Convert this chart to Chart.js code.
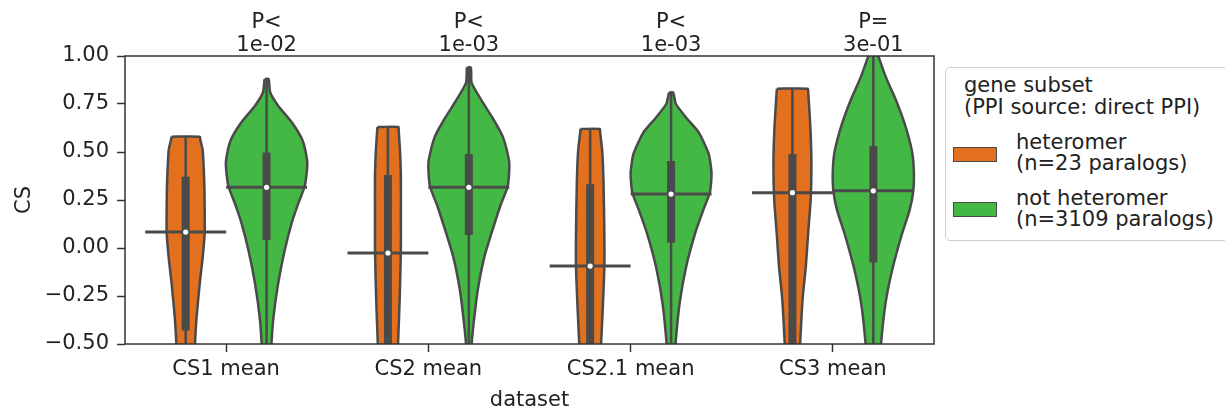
<!DOCTYPE html>
<html><head><meta charset="utf-8">
<script src="https://cdn.jsdelivr.net/npm/chart.js@4.4.1/dist/chart.umd.min.js"></script>
<style>
html,body{margin:0;padding:0;background:#fff;overflow:hidden;width:1225px;height:409px;}
#wrap{position:relative;width:1225px;height:409px;overflow:hidden;}
canvas{position:absolute;left:0;top:0;}
.lg{position:absolute;font-family:'DejaVu Sans';font-size:21px;line-height:21px;color:#222;white-space:nowrap;}
#lgbox{position:absolute;left:945px;top:67px;width:320px;height:172px;border:1.5px solid #cfcfcf;border-radius:5px;background:#fff;}
.patch{position:absolute;width:42px;height:13px;border:1.5px solid #4a4a4a;}
</style></head><body>
<div id="wrap"><canvas id="c" width="1225" height="409"></canvas><div id="legend"></div></div>
<script>
// ---- data ----
const categories = ['CS1 mean', 'CS2 mean', 'CS2.1 mean', 'CS3 mean'];
const groupNames = [['heteromer', '(n=23 paralogs)'], ['not heteromer', '(n=3109 paralogs)']];
const legendTitle = ['gene subset', '(PPI source: direct PPI)'];
const pLabels = [['P<', '1e-02'], ['P<', '1e-03'], ['P<', '1e-03'], ['P=', '3e-01']];
const yTicks = [-0.5, -0.25, 0, 0.25, 0.5, 0.75, 1.0];

// violin outlines: CS levels (top -> bottom) and relative half-width (1 = widest violin)
const hetProfileY = [
  [0.58, 0.565, 0.51, 0.34, 0.20, 0.08, -0.05, -0.18, -0.36, -0.50, -0.60],
  [0.63, 0.615, 0.50, 0.37, 0.16, -0.01, -0.27, -0.50, -0.60],
  [0.62, 0.605, 0.50, 0.34, 0.08, -0.10, -0.32, -0.50, -0.60],
  [0.83, 0.815, 0.60, 0.42, 0.25, 0.08, -0.10, -0.27, -0.50, -0.60]
];
const hetProfileW = [
  [0.35, 0.36, 0.42, 0.46, 0.47, 0.47, 0.42, 0.35, 0.27, 0.23, 0.21],
  [0.26, 0.265, 0.30, 0.32, 0.32, 0.32, 0.29, 0.25, 0.23],
  [0.24, 0.245, 0.30, 0.33, 0.35, 0.35, 0.31, 0.27, 0.25],
  [0.38, 0.39, 0.45, 0.47, 0.45, 0.39, 0.33, 0.25, 0.19, 0.17]
];
const notProfileY = [
  [0.88, 0.81, 0.74, 0.65, 0.56, 0.46, 0.41, 0.32, 0.23, 0.13, -0.01, -0.18, -0.36, -0.50, -0.60],
  [0.94, 0.86, 0.77, 0.68, 0.58, 0.46, 0.41, 0.32, 0.22, 0.09, -0.05, -0.22, -0.39, -0.50, -0.60],
  [0.81, 0.75, 0.68, 0.60, 0.49, 0.39, 0.29, 0.20, 0.08, -0.10, -0.29, -0.50, -0.60],
  [1.03, 0.99, 0.89, 0.77, 0.65, 0.51, 0.41, 0.30, 0.20, 0.06, -0.12, -0.29, -0.50, -0.60]
];
const notProfileW = [
  [0.05, 0.09, 0.29, 0.64, 0.89, 1.00, 1.00, 0.94, 0.78, 0.62, 0.45, 0.29, 0.17, 0.12, 0.10],
  [0.05, 0.07, 0.31, 0.58, 0.84, 0.99, 1.00, 0.96, 0.78, 0.58, 0.38, 0.22, 0.12, 0.07, 0.06],
  [0.05, 0.12, 0.37, 0.69, 0.93, 1.00, 0.96, 0.80, 0.60, 0.37, 0.21, 0.11, 0.09],
  [0.07, 0.14, 0.31, 0.56, 0.77, 0.95, 1.00, 0.99, 0.90, 0.69, 0.46, 0.30, 0.19, 0.17]
];

// inner box statistics
const hetWhiskerLow  = [-0.70, -0.70, -0.70, -0.70];
const hetQ1          = [-0.43, -0.60, -0.60, -0.60];
const hetMedian      = [0.083, -0.026, -0.094, 0.288];
const hetQ3          = [0.371, 0.38, 0.332, 0.49];
const hetWhiskerHigh = [0.58, 0.63, 0.62, 0.83];
const notWhiskerLow  = [-0.70, -0.70, -0.70, -0.70];
const notQ1          = [0.042, 0.068, 0.028, -0.076];
const notMedian      = [0.316, 0.316, 0.281, 0.298];
const notQ3          = [0.497, 0.49, 0.453, 0.531];
const notWhiskerHigh = [0.88, 0.94, 0.81, 1.03];

// ---- styling ----
const groupColors = ['#e2701e', '#44b844'];
const edge = '#4a4a4a';
const textColor = '#222';
const FONT = 'DejaVu Sans';
const offsets = [-0.2, 0.2];
const maxHalf = 0.2;

const profY = [hetProfileY, notProfileY];
const profW = [hetProfileW, notProfileW];
const wLo = [hetWhiskerLow, notWhiskerLow], q1s = [hetQ1, notQ1], meds = [hetMedian, notMedian],
      q3s = [hetQ3, notQ3], wHi = [hetWhiskerHigh, notWhiskerHigh];

const datasets = [];
for (let g = 0; g < 2; g++) {
  for (let i = 0; i < categories.length; i++) {
    const c = i + offsets[g];
    const ys = profY[g][i], ws = profW[g][i];
    const left = ys.map((y, k) => ({x: c - ws[k] * maxHalf, y}));
    const right = ys.map((y, k) => ({x: c + ws[k] * maxHalf, y})).reverse();
    const poly = left.concat(right, [left[0]]);
    datasets.push({data: poly, backgroundColor: groupColors[g], borderColor: edge, borderWidth: 2.5,
      fill: 'shape', pointRadius: 0, tension: 0.2, order: 5, borderJoinStyle: 'round'});
    datasets.push({data: [{x: c, y: wLo[g][i]}, {x: c, y: wHi[g][i]}], borderColor: edge, borderWidth: 2.5,
      pointRadius: 0, fill: false, order: 4});
    datasets.push({data: [{x: c, y: q1s[g][i]}, {x: c, y: q3s[g][i]}], borderColor: edge, borderWidth: 8,
      borderCapStyle: 'butt', pointRadius: 0, fill: false, order: 3});
    datasets.push({data: [{x: c - maxHalf, y: meds[g][i]}, {x: c + maxHalf, y: meds[g][i]}], borderColor: edge,
      borderWidth: 3, pointRadius: 0, fill: false, order: 2});
    datasets.push({data: [{x: c, y: meds[g][i]}], showLine: false, pointRadius: 2.6, pointBorderWidth: 0,
      pointBackgroundColor: '#ffffff', pointBorderColor: '#ffffff', fill: false, order: 1});
  }
}

const frame = {
  id: 'frame',
  afterDatasetsDraw(chart) {
    const {ctx, chartArea: a} = chart;
    ctx.save();
    ctx.strokeStyle = '#333';
    ctx.lineWidth = 1.5;
    ctx.strokeRect(a.left, a.top, a.right - a.left, a.bottom - a.top);
    ctx.restore();
  }
};
const pAnnot = {
  id: 'pAnnot',
  afterDraw(chart) {
    const {ctx} = chart;
    const x = chart.scales.x;
    ctx.save();
    ctx.font = "21px 'DejaVu Sans'";
    ctx.fillStyle = textColor;
    ctx.textAlign = 'center';
    ctx.textBaseline = 'alphabetic';
    pLabels.forEach((lines, i) => {
      const px = x.getPixelForValue(i + offsets[1]);
      ctx.fillText(lines[0], px, 28);
      ctx.fillText(lines[1], px, 50.5);
    });
    ctx.restore();
  }
};

const fmt = v => (v < 0 ? '\u2212' : '') + Math.abs(v).toFixed(2);

new Chart(document.getElementById('c'), {
  type: 'line',
  data: {datasets},
  options: {
    responsive: false,
    animation: false,
    layout: {padding: {left: 0, top: 56, right: 291, bottom: 0}},
    plugins: {legend: {display: false}, tooltip: {enabled: false}},
    scales: {
      x: {
        type: 'linear', min: -0.5, max: 3.5,
        afterBuildTicks: s => { s.ticks = categories.map((_, i) => ({value: i})); },
        afterFit: s => { s.height = 65; },
        ticks: {autoSkip: false, maxRotation: 0, padding: 5, color: textColor,
          font: {family: FONT, size: 21}, callback: v => categories[v]},
        grid: {drawOnChartArea: false, drawTicks: true, tickLength: 8, tickColor: '#333', tickWidth: 1.5},
        border: {display: false},
        title: {display: true, text: 'dataset', color: textColor, font: {family: FONT, size: 21, lineHeight: 0.8}, padding: 0}
      },
      y: {
        type: 'linear', min: -0.5, max: 1.0,
        afterBuildTicks: s => { s.ticks = yTicks.map(v => ({value: v})); },
        afterFit: s => { s.width = 125; },
        ticks: {padding: 8, color: textColor, font: {family: FONT, size: 21}, callback: v => fmt(v)},
        grid: {drawOnChartArea: false, drawTicks: true, tickLength: 8, tickColor: '#333', tickWidth: 1.5},
        border: {display: false},
        title: {display: true, text: 'CS', color: textColor, font: {family: FONT, size: 21, lineHeight: 0.8}, padding: {top: 16, bottom: 0}}
      }
    }
  },
  plugins: [frame, pAnnot]
});

// ---- legend (HTML) ----
const lg = document.getElementById('legend');
let html = '<div id="lgbox"></div>';
html += `<div class="lg" style="left:964px;top:75px">${legendTitle[0]}</div>`;
html += `<div class="lg" style="left:964px;top:97px">${legendTitle[1]}</div>`;
const entryTops = [132, 188];
const patchTops = [147, 202];
groupNames.forEach((nm, g) => {
  html += `<div class="patch" style="left:953px;top:${patchTops[g]}px;background:${groupColors[g]}"></div>`;
  html += `<div class="lg" style="left:1016px;top:${entryTops[g]}px">${nm[0]}</div>`;
  html += `<div class="lg" style="left:1016px;top:${entryTops[g] + 21}px">${nm[1]}</div>`;
});
lg.innerHTML = html;
</script>
</body></html>
